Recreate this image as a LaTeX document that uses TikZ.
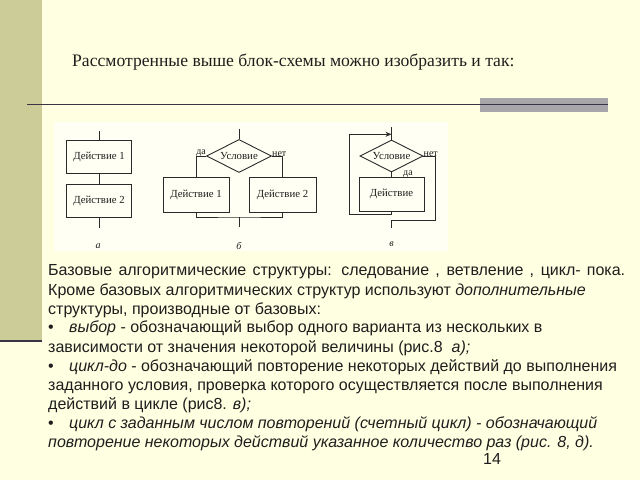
\documentclass[tikz,border=0pt]{standalone}
\usepackage{fontspec}
\setmainfont{Liberation Serif}
\newfontfamily\arialf{Liberation Sans}
\usetikzlibrary{shapes.geometric,arrows.meta}
\definecolor{bgyel}{HTML}{FFFFE1}
\definecolor{picbg}{HTML}{FFFFF3}
\definecolor{barcol}{HTML}{CCCC99}
\definecolor{rulecol}{HTML}{3A3445}
\definecolor{greybox}{HTML}{A8A6AA}
\definecolor{ink}{HTML}{1E1E1E}
\definecolor{lineink}{HTML}{2A2A2A}
\tikzset{
  actbox/.style={draw=lineink,line width=0.9pt,fill=picbg,inner sep=0pt,font=\fontsize{10.8}{12}\selectfont,text=ink},
  cond/.style={draw=lineink,line width=0.9pt,fill=picbg,diamond,aspect=2,inner sep=0pt,font=\fontsize{10.8}{12}\selectfont,text=ink},
  conn/.style={draw=lineink,line width=0.9pt},
  small/.style={font=\fontsize{10}{11}\selectfont,text=ink,inner sep=0pt},
  figlab/.style={font=\itshape\fontsize{10}{12}\selectfont,text=ink,inner sep=0pt},
  body/.style={anchor=base west,inner sep=0pt,font=\arialf\fontsize{16}{18}\selectfont,text=ink},
}
\begin{document}
\begin{tikzpicture}[x=1pt,y=-1pt]
\useasboundingbox (0,0) rectangle (640,480);
\fill[bgyel] (0,0) rectangle (640,480);
\fill[barcol] (0,0) rectangle (42,340);
\draw[rulecol,line width=1.6pt] (0,341) -- (42,341);
% title
\node[anchor=base west,inner sep=0pt,font=\fontsize{17.6}{20}\selectfont,text=ink] (title) at (72,66) {Рассмотренные выше блок-схемы можно изобразить и так:};
% rule
\fill[greybox] (480,98) rectangle (607.5,111.5);
\draw[rulecol,line width=1.4pt] (27,104.3) -- (607.5,104.3);
% picture background
\fill[picbg] (54,122) rectangle (448,251);
% ---- a
\node[actbox,minimum width=65pt,minimum height=33pt] (a1) at (99,157) {Действие 1};
\node[actbox,minimum width=65pt,minimum height=33pt] (a2) at (99,200.5) {Действие 2};
\coordinate (atop) at (99,131);
\coordinate (abot) at (99,228);
\draw[conn] (atop) -- (a1.north);
\draw[conn] (a1.south) -- (a2.south |- a2.north);
\draw[conn] (a2.south) -- (abot);
\node[figlab] (la) at (98,246) {а};
% ---- b
\node[cond,minimum width=65pt,minimum height=33pt] (bd) at (239,156) {Условие};
\node[actbox,minimum width=66pt,minimum height=35pt] (b1) at (196,194.5) {Действие 1};
\node[actbox,minimum width=67pt,minimum height=35pt] (b2) at (282.5,194.5) {Действие 2};
\coordinate (btop) at (239,129);
\coordinate (bjoin) at (239,217);
\coordinate (bbot) at (239,227);
\draw[conn] (btop) -- (bd.north);
\draw[conn] (bd.west) -| (b1.north);
\draw[conn] (bd.east) -| (b2.north);
\draw[conn] (b1.south) |- (bjoin) -| (b2.south);
\draw[conn] (bjoin) -- (bbot);
\node[small,anchor=south east] (bda) at ([yshift=-1pt]bd.west) {да};
\node[small,anchor=south west] (bnet) at ([yshift=-1pt]bd.east) {нет};
\node[figlab] (lb) at (239,246) {б};
% ---- c
\node[cond,minimum width=63pt,minimum height=32pt] (cd) at (391.5,156) {Условие};
\node[actbox,minimum width=65pt,minimum height=34pt] (c1) at (391.5,194) {Действие};
\coordinate (ctop) at (391.5,127);
\coordinate (cjoin) at (391.5,134.3);
\coordinate (cl) at (349.3,214.3);
\coordinate (cr) at (435,220);
\coordinate (cbot) at (391.5,228);
\draw[conn] (ctop) -- (cd.north);
\draw[conn] (cd.south) -- (c1.north);
\draw[conn,-{Stealth[length=6pt,width=5pt]}] (c1.south) |- (cl) |- (cjoin);
\draw[conn] (cd.east) -| (cr) -| (cbot);
\node[small,anchor=base west] (cda) at (403,175.5) {да};
\node[small,anchor=south west] (cnet) at ([yshift=-1pt]cd.east) {нет};
\node[figlab] (lc) at (391.5,244) {в};
% ---- body text
\node[body] (t1) at (48,275.5) {\makebox[577pt][s]{Базовые алгоритмические структуры: следование , ветвление , цикл- пока.}};
\node[body] (t2) at (48,295) {Кроме базовых алгоритмических структур используют \textit{дополнительные}};
\node[body] (t3) at (48,314) {структуры, производные от базовых:};
\node[body] (t4) at (48,332.5) {\makebox[21pt][l]{•}\textit{выбор} - обозначающий выбор одного варианта из нескольких в};
\node[body] (t5) at (48,352) {зависимости от значения некоторой величины (рис.8\ \ \textit{а);}};
\node[body] (t6) at (48,371.5) {\makebox[21pt][l]{•}\textit{цикл-до} - обозначающий повторение некоторых действий до выполнения};
\node[body] (t7) at (48,390.5) {заданного условия, проверка которого осуществляется после выполнения};
\node[body] (t8) at (48,409.5) {действий в цикле (рис8. \textit{в);}};
\node[body] (t9) at (48,428.5) {\makebox[21pt][l]{•}\textit{цикл с заданным числом повторений (счетный цикл) - обозначающий}};
\node[body] (t10) at (48,447.5) {\textit{повторение некоторых действий указанное количество раз (рис. 8, д).}};
\node[body] (pg) at (483,464) {14};
\end{tikzpicture}
\end{document}
